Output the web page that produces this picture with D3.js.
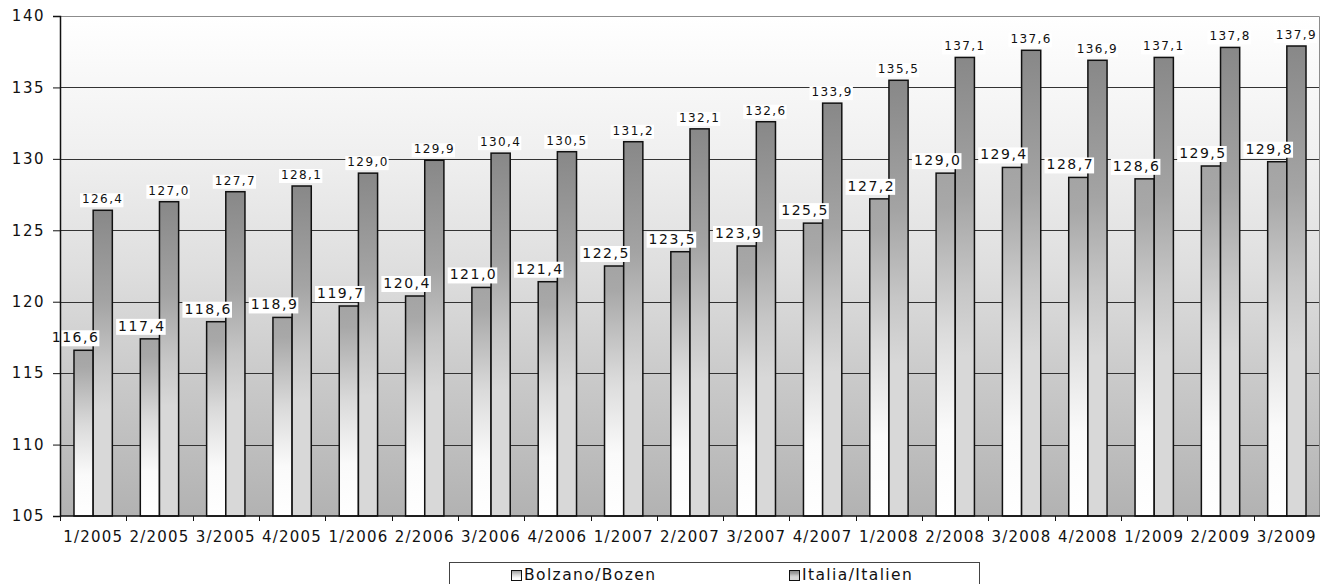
<!DOCTYPE html>
<html>
<head>
  <meta charset="utf-8">
  <script src="https://d3js.org/d3.v7.min.js"></script>
  <style>
    body { margin: 0; background: #fff; }
    text { font-family: "DejaVu Sans", Verdana, sans-serif; }
  </style>
</head>
<body>
  <div id="chart"></div>
  <script>
    // quarters on the x axis
    var quarters = ['1/2005', '2/2005', '3/2005', '4/2005', '1/2006', '2/2006', '3/2006', '4/2006',
      '1/2007', '2/2007', '3/2007', '4/2007', '1/2008', '2/2008', '3/2008', '4/2008',
      '1/2009', '2/2009', '3/2009'];
    var bolzano = [116.6, 117.4, 118.6, 118.9, 119.7, 120.4, 121.0, 121.4, 122.5, 123.5,
      123.9, 125.5, 127.2, 129.0, 129.4, 128.7, 128.6, 129.5, 129.8];
    var italia = [126.4, 127.0, 127.7, 128.1, 129.0, 129.9, 130.4, 130.5, 131.2, 132.1,
      132.6, 133.9, 135.5, 137.1, 137.6, 136.9, 137.1, 137.8, 137.9];
    var seriesNames = ['Bolzano/Bozen', 'Italia/Italien'];
    var yTicks = [105, 110, 115, 120, 125, 130, 135, 140];

    var W = 1321, H = 584;
    var margin = { top: 16, right: 1, bottom: 68, left: 60 };
    var width = W - margin.left - margin.right;
    var height = H - margin.top - margin.bottom;

    var svg = d3.select('#chart').append('svg')
      .attr('width', W)
      .attr('height', H);

    var defs = svg.append('defs');

    function gradient(id, stops) {
      var g = defs.append('linearGradient')
        .attr('id', id)
        .attr('x1', 0).attr('y1', 0).attr('x2', 0).attr('y2', 1);
      stops.forEach(function(s) {
        g.append('stop').attr('offset', s[0]).attr('stop-color', s[1]);
      });
      return g;
    }
    gradient('bg', [[0, '#ffffff'], [0.27, '#f0f0f0'], [0.51, '#dedede'], [0.71, '#cbcbcb'], [1, '#b2b2b2']]);
    gradient('gBolzano', [[0, '#a4a4a4'], [0.1, '#a8a8a8'], [0.45, '#dadada'], [0.75, '#fafafa'], [1, '#ffffff']]);
    gradient('gItalia', [[0, '#888888'], [0.3, '#a4a4a4'], [0.5, '#c6c6c6'], [0.65, '#d8d8d8'], [1, '#d8d8d8']]);

    var fills = ['url(#gBolzano)', 'url(#gItalia)'];

    var chart = svg.append('g')
      .attr('transform', 'translate(' + margin.left + ',' + margin.top + ')');

    var x = d3.scaleBand()
      .domain(quarters)
      .range([0, width])
      .padding(0);

    var xs = d3.scaleBand()
      .domain([0, 1])
      .range([0, x.bandwidth()])
      .paddingInner(0)
      .paddingOuter(0.73);

    var y = d3.scaleLinear()
      .domain([105, 140])
      .range([height, 0]);

    // plot background
    chart.append('rect')
      .attr('width', width)
      .attr('height', height)
      .attr('fill', 'url(#bg)');

    // gridlines
    chart.append('g')
      .selectAll('line')
      .data(yTicks.filter(function(d) { return d > 105 && d < 140; }))
      .enter()
      .append('line')
      .attr('x1', 0)
      .attr('x2', width)
      .attr('y1', function(d) { return Math.round(y(d)) + 0.5; })
      .attr('y2', function(d) { return Math.round(y(d)) + 0.5; })
      .attr('stroke', '#333')
      .attr('stroke-width', 1);

    // top and right border
    chart.append('path')
      .attr('d', 'M0,0.5H' + (width - 0.5) + 'V' + height)
      .attr('fill', 'none')
      .attr('stroke', '#8c8c8c')
      .attr('stroke-width', 1);

    var rows = quarters.map(function(q, i) {
      return { q: q, values: [bolzano[i], italia[i]] };
    });

    var groups = chart.selectAll('.grp')
      .data(rows)
      .enter()
      .append('g')
      .attr('class', 'grp')
      .attr('transform', function(d) { return 'translate(' + x(d.q) + ',0)'; });

    groups.selectAll('rect')
      .data(function(d) { return d.values; })
      .enter()
      .append('rect')
      .attr('x', function(d, i) { return xs(i); })
      .attr('width', xs.bandwidth())
      .attr('y', function(d) { return y(d); })
      .attr('height', function(d) { return height - y(d); })
      .attr('fill', function(d, i) { return fills[i]; })
      .attr('stroke', '#111')
      .attr('stroke-width', 1.5);

    // y axis
    var yAxis = chart.append('g')
      .call(d3.axisLeft(y).tickValues(yTicks).tickSize(7).tickPadding(8).tickFormat(d3.format('d')));
    yAxis.select('.domain').attr('stroke', '#111').attr('stroke-width', 1.5);
    yAxis.selectAll('.tick line').attr('stroke', '#111');
    yAxis.selectAll('text')
      .attr('font-size', '15px')
      .attr('letter-spacing', '1.5px')
      .attr('fill', '#111')
      .attr('font-family', '"DejaVu Sans", Verdana, sans-serif');

    // x axis with ticks between categories
    var xAxis = chart.append('g')
      .attr('transform', 'translate(0,' + height + ')');
    xAxis.append('line')
      .attr('x1', 0).attr('x2', width)
      .attr('y1', 0).attr('y2', 0)
      .attr('stroke', '#111')
      .attr('stroke-width', 1.5);
    xAxis.selectAll('.tk')
      .data(quarters)
      .enter()
      .append('line')
      .attr('class', 'tk')
      .attr('x1', function(d) { return Math.round(x(d)) + 0.5; })
      .attr('x2', function(d) { return Math.round(x(d)) + 0.5; })
      .attr('y1', 0).attr('y2', 5)
      .attr('stroke', '#111');
    xAxis.selectAll('.lbl')
      .data(quarters)
      .enter()
      .append('text')
      .attr('class', 'lbl')
      .attr('x', function(d) { return x(d) + x.bandwidth() / 2; })
      .attr('y', 26)
      .attr('text-anchor', 'middle')
      .attr('font-size', '15px')
      .attr('letter-spacing', '1.2px')
      .attr('fill', '#111')
      .text(function(d) { return d; });

    // value labels with white boxes
    var fmt = function(v) { return v.toFixed(1).replace('.', ','); };
    var labelStyle = [
      { size: 14, spacing: 1.5, dx: -8, dy: -8 },
      { size: 12, spacing: 1.4, dx: 0, dy: -7 }
    ];

    groups.each(function(d) {
      var g = d3.select(this);
      d.values.forEach(function(v, i) {
        var st = labelStyle[i];
        var cx = xs(i) + xs.bandwidth() / 2 + st.dx;
        var lbl = g.append('g');
        var bg = lbl.append('rect').attr('fill', '#fff');
        var t = lbl.append('text')
          .attr('x', cx)
          .attr('y', y(v) + st.dy)
          .attr('text-anchor', 'middle')
          .attr('font-size', st.size + 'px')
          .attr('letter-spacing', st.spacing + 'px')
          .attr('fill', '#111')
          .text(fmt(v));
        var bb = t.node().getBBox();
        bg.attr('x', bb.x - 2)
          .attr('y', bb.y + 1)
          .attr('width', bb.width + 2)
          .attr('height', bb.height);
      });
    });

    // legend
    var legend = svg.append('g');
    legend.append('rect')
      .attr('x', 449.5)
      .attr('y', 562.5)
      .attr('width', 530)
      .attr('height', 40)
      .attr('fill', '#fff')
      .attr('stroke', '#444');

    var legendX = [511, 789];
    seriesNames.forEach(function(name, i) {
      legend.append('rect')
        .attr('x', legendX[i] + 0.5)
        .attr('y', 570.5)
        .attr('width', 10)
        .attr('height', 10)
        .attr('fill', fills[i])
        .attr('stroke', '#111');
      legend.append('text')
        .attr('x', legendX[i] + 13)
        .attr('y', 580)
        .attr('font-size', '15.5px')
        .attr('letter-spacing', '1.4px')
        .attr('fill', '#111')
        .text(name);
    });
  </script>
</body>
</html>
